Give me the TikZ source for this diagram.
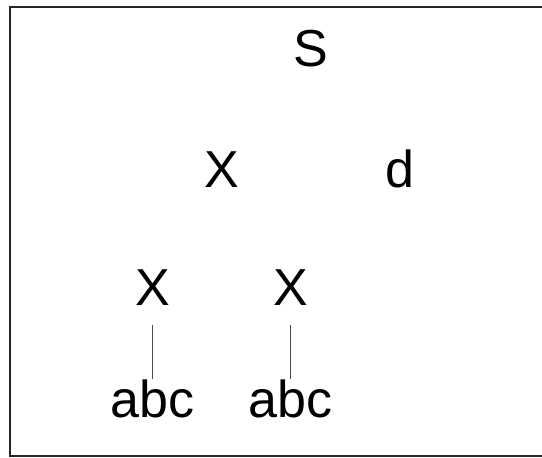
\documentclass[tikz,border=0pt]{standalone}
\usepackage{fontspec}
\setmainfont{Liberation Sans}
\usepackage{tikz}

\begin{document}
\begin{tikzpicture}[x=1pt,y=-1pt,
  sym/.style={inner sep=0pt,anchor=base,font=\fontsize{52}{60}\selectfont}]
\useasboundingbox (0,0) rectangle (542,458);
\draw[line width=1.3pt,black!85] (550,7) -- (10,7) -- (10,456) -- (550,456);
\node[sym] (s) at (311,66) {S};
\node[sym] (x) at (221.5,187) {X};
\node[sym] (d) at (400,187) {d};
\node[sym] (xa) at (152.5,305) {X};
\node[sym] (xb) at (290.5,305) {X};
\node[sym] (abca) at (152.5,417) {abc};
\node[sym] (abcb) at (290.5,417) {abc};
\draw[line width=0.6pt,black!70] ([yshift=-20pt]xa.south) -- (abca.north);
\draw[line width=0.6pt,black!70] ([yshift=-20pt]xb.south) -- (abcb.north);
\end{tikzpicture}
\end{document}
